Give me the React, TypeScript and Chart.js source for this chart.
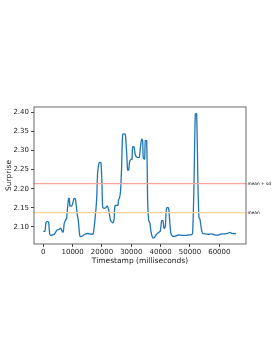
import React, { useEffect, useRef } from "react";
import { Chart, registerables } from "chart.js";
Chart.register(...registerables);

const timestamps = [0, 570, 900, 1480, 1820, 2160, 2500, 3400, 3980, 4550, 5450, 5900, 6250, 6590, 6800, 7160, 7730, 7950, 8300, 8640, 8860, 9090, 9660, 9990, 10450, 10900, 11250, 11600, 11930, 12270, 12500, 13070, 14200, 15000, 15900, 16700, 17050, 17600, 18180, 18520, 18980, 19320, 19660, 20000, 20230, 20680, 21360, 21820, 22270, 22950, 23640, 24090, 24430, 25000, 25450, 25680, 26020, 26360, 26700, 27050, 27500, 27950, 28180, 28520, 28750, 29090, 29430, 29890, 30230, 30450, 30900, 31360, 31930, 32730, 33070, 33520, 33860, 34090, 34550, 34770, 35230, 35570, 35910, 36360, 36700, 37270, 37840, 38410, 39200, 39890, 40340, 40800, 41140, 41590, 41930, 42270, 42730, 43070, 43520, 44090, 45000, 46020, 47160, 48300, 49430, 50570, 50910, 51360, 51820, 52270, 52730, 53070, 53410, 53860, 54320, 55110, 56250, 57390, 58520, 59660, 60800, 61930, 63070, 63640, 64320, 65110, 65680];
const surprise = [2.0887, 2.089, 2.111, 2.114, 2.112, 2.083, 2.078, 2.08, 2.083, 2.091, 2.094, 2.097, 2.092, 2.087, 2.087, 2.11, 2.12, 2.1225, 2.153, 2.175, 2.174, 2.155, 2.155, 2.16, 2.174, 2.174, 2.155, 2.131, 2.118, 2.088, 2.076, 2.0756, 2.081, 2.083, 2.082, 2.081, 2.083, 2.118, 2.171, 2.241, 2.267, 2.269, 2.267, 2.214, 2.153, 2.149, 2.151, 2.155, 2.145, 2.117, 2.111, 2.118, 2.155, 2.157, 2.157, 2.172, 2.177, 2.197, 2.258, 2.341, 2.3435, 2.342, 2.3235, 2.28, 2.249, 2.249, 2.271, 2.277, 2.277, 2.31, 2.31, 2.289, 2.2825, 2.2825, 2.306, 2.33, 2.326, 2.28, 2.278, 2.326, 2.326, 2.171, 2.118, 2.1096, 2.088, 2.072, 2.072, 2.079, 2.085, 2.0895, 2.1166, 2.1166, 2.0965, 2.1, 2.1445, 2.151, 2.149, 2.118, 2.082, 2.076, 2.076, 2.079, 2.078, 2.078, 2.079, 2.08, 2.085, 2.2056, 2.396, 2.396, 2.2056, 2.125, 2.12, 2.0965, 2.083, 2.082, 2.081, 2.082, 2.079, 2.079, 2.082, 2.082, 2.084, 2.086, 2.083, 2.083, 2.082];
const meanValue = 2.1374;
const meanPlusSd = 2.2133;
const refLabels = ["mean + sd", "mean"];
const xTicks = [0, 10000, 20000, 30000, 40000, 50000, 60000];
const yTicks = [2.1, 2.15, 2.2, 2.25, 2.3, 2.35, 2.4];
const xMin = -3170;
const xMax = 69100;
const yMin = 2.0555;
const yMax = 2.414;

export default function App() {
  const ref = useRef<HTMLCanvasElement>(null);
  useEffect(() => {
    const canvas = ref.current!;
    const font = "'DejaVu Sans', sans-serif";
    const framePlugin = {
      id: "frame",
      afterDatasetsDraw(chart: any) {
        const { ctx, chartArea: a, scales } = chart;
        ctx.save();
        ctx.strokeStyle = "#444";
        ctx.lineWidth = 0.8;
        ctx.strokeRect(a.left, a.top, a.right - a.left, a.bottom - a.top);
        ctx.fillStyle = "#000";
        ctx.font = "4.3px " + font;
        ctx.textBaseline = "middle";
        ctx.textAlign = "left";
        const vals = [meanPlusSd, meanValue];
        vals.forEach((v, i) => {
          ctx.fillText(refLabels[i], a.right + 1.5, scales.y.getPixelForValue(v));
        });
        ctx.restore();
      },
    };
    const chart = new Chart(canvas, {
      type: "line",
      data: {
        datasets: [
          {
            data: [{ x: xMin, y: meanPlusSd }, { x: xMax, y: meanPlusSd }],
            borderColor: "#f7a49c",
            borderWidth: 1.2,
            pointRadius: 0,
          },
          {
            data: [{ x: xMin, y: meanValue }, { x: xMax, y: meanValue }],
            borderColor: "#fdd494",
            borderWidth: 1.2,
            pointRadius: 0,
          },
          {
            data: timestamps.map((t, i) => ({ x: t, y: surprise[i] })),
            borderColor: "#1f77b4",
            borderWidth: 1.3,
            pointRadius: 0,
            tension: 0.25,
            fill: false,
          },
        ],
      },
      options: {
        animation: false,
        responsive: false,
        maintainAspectRatio: false,
        layout: { padding: { left: 5, right: 27, top: 107, bottom: 87 } },
        plugins: { legend: { display: false }, tooltip: { enabled: false } },
        scales: {
          x: {
            type: "linear",
            min: xMin,
            max: xMax,
            afterBuildTicks: (s: any) => {
              s.ticks = xTicks.map((v) => ({ value: v }));
            },
            afterFit: (s: any) => {
              s.height = 22;
            },
            grid: { display: true, drawOnChartArea: false, drawTicks: true, tickLength: 3, color: "#444" },
            border: { display: false },
            ticks: { color: "#222", font: { family: font, size: 7 }, padding: 1, maxRotation: 0, autoSkip: false, callback: (v: any) => String(v) },
            title: { display: true, text: "Timestamp (milliseconds)", color: "#222", font: { family: font, size: 7.5 }, padding: { top: 1, bottom: 0 } },
          },
          y: {
            type: "linear",
            min: yMin,
            max: yMax,
            afterBuildTicks: (s: any) => {
              s.ticks = yTicks.map((v) => ({ value: v }));
            },
            afterFit: (s: any) => {
              s.width = 29;
            },
            grid: { display: true, drawOnChartArea: false, drawTicks: true, tickLength: 3, color: "#444" },
            border: { display: false },
            ticks: { color: "#222", font: { family: font, size: 7 }, padding: 2, autoSkip: false, callback: (v: any) => Number(v).toFixed(2) },
            title: { display: true, text: "Surprise", color: "#222", font: { family: font, size: 7.5 }, padding: { top: 0, bottom: 1 } },
          },
        },
      },
      plugins: [framePlugin],
    } as any);
    return () => chart.destroy();
  }, []);
  return (
    <div style={{ position: "fixed", left: 0, top: 0, width: 273, height: 353, background: "#fff" }}>
      <canvas ref={ref} width={273} height={353} style={{ display: "block", width: 273, height: 353 }} />
    </div>
  );
}
